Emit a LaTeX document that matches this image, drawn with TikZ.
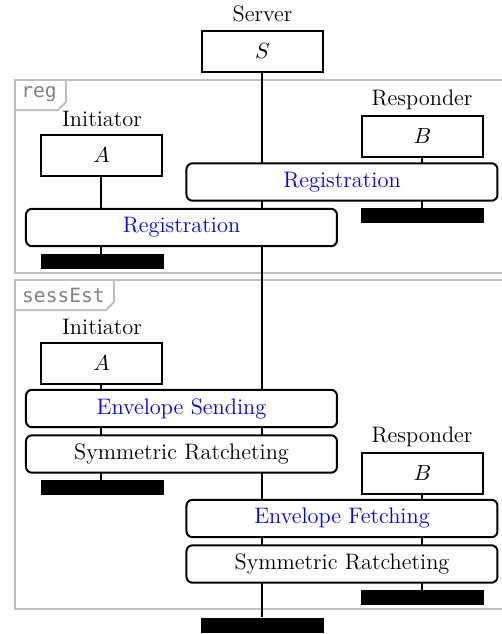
\documentclass[tikz,border=0pt]{standalone}
\usepackage{fontspec}
\newfontfamily\monofont{DejaVu Sans Mono}
\pgfdeclarelayer{back}
\pgfdeclarelayer{mid}
\pgfsetlayers{back,mid,main}
\definecolor{framegray}{RGB}{192,192,192}
\definecolor{msgblue}{RGB}{0,0,255}
\definecolor{taggray}{RGB}{130,130,130}
\begin{document}
\begin{tikzpicture}[x=0.5pt,y=-0.5pt,
  inst/.style={draw,line width=1pt,fill=white,minimum width=60.5pt,minimum height=20.5pt,inner sep=0pt},
  proc/.style={draw,line width=1pt,fill=white,rounded corners=3pt,minimum width=155.5pt,minimum height=18.7pt,inner sep=0pt},
  endbar/.style={fill=black,minimum width=61.5pt,minimum height=7.5pt,inner sep=0pt},
  lbl/.style={inner sep=0pt},
  blue/.style={text=msgblue},
  life/.style={line width=1pt},
  frm/.style={draw=framegray,line width=1pt},
  tag/.style={text=taggray,font=\monofont\fontsize{9.8}{11}\selectfont,inner sep=0pt}]
\useasboundingbox (0,0) rectangle (502,634);
\fontsize{11.2}{13}\selectfont
% server
\node[lbl] (srvlbl) at (262.5,14) {Server};
\node[inst] (S) at (262.5,51) {$S$};
\node[endbar] (Send) at (262.5,625) {};
% frames
\begin{pgfonlayer}{back}
\draw[frm] (15,80) rectangle (520,273);
\draw[frm] (15,110) -- (58,110) -- (66,102) -- (66,80);
\draw[frm] (15,280) rectangle (520,609);
\draw[frm] (15,310) -- (106,310) -- (114,302) -- (114,280);
\end{pgfonlayer}
\node[tag] (regtag) at (39,94) {reg};
\node[tag] (sesstag) at (63.5,295) {sessEst};
% reg section
\node[lbl] (ilbl1) at (102,119) {Initiator};
\node[inst] (A1) at (101.5,155.5) {$A$};
\node[lbl] (rlbl1) at (422,100) {Responder};
\node[inst] (B1) at (422.5,136.5) {$B$};
\node[proc,blue] (R1) at (342,182) {Registration};
\node[proc,blue] (R2) at (181.5,227.5) {Registration};
\node[endbar] (B1end) at (422.5,215.5) {};
\node[endbar] (A1end) at (102.5,261.5) {};
% sessEst section
\node[lbl] (ilbl2) at (102,327) {Initiator};
\node[inst] (A2) at (101.5,363.5) {$A$};
\node[proc,blue] (ES) at (181.5,408.5) {Envelope Sending};
\node[proc] (SR1) at (181.5,454) {Symmetric Ratcheting};
\node[endbar] (A2end) at (102.5,487.5) {};
\node[lbl] (rlbl2) at (422,437) {Responder};
\node[inst] (B2) at (422.5,473) {$B$};
\node[proc,blue] (EF) at (342,518.5) {Envelope Fetching};
\node[proc] (SR2) at (342,564) {Symmetric Ratcheting};
\node[endbar] (B2end) at (422.5,597.5) {};
\begin{pgfonlayer}{mid}
\draw[life] (S.south) -- (Send.north);
\draw[life] (A1.south) -- (A1.south |- A1end.north);
\draw[life] (B1.south) -- (B1.south |- B1end.north);
\draw[life] (A2.south) -- (A2.south |- A2end.north);
\draw[life] (B2.south) -- (B2.south |- B2end.north);
\end{pgfonlayer}
\end{tikzpicture}
\end{document}
